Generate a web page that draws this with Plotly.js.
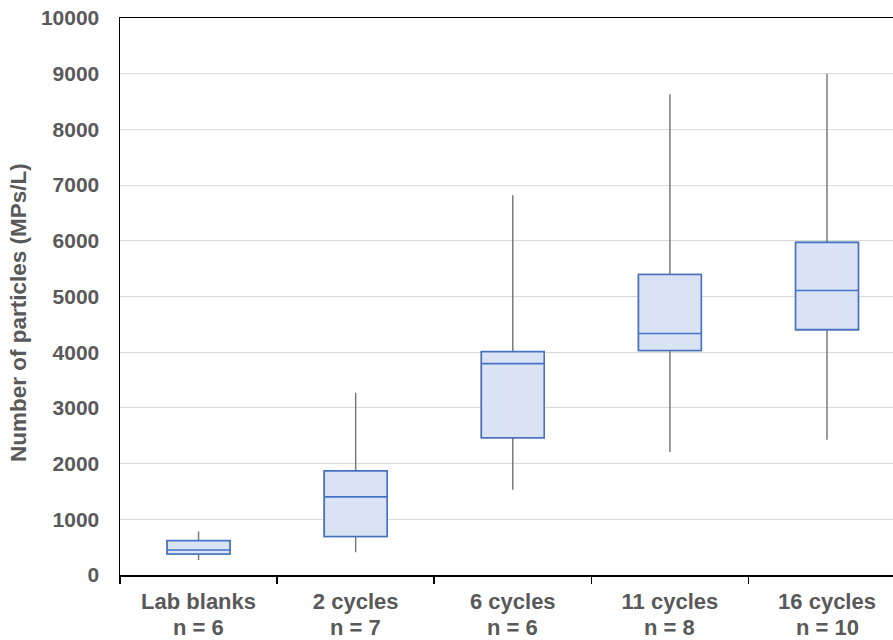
<!DOCTYPE html>
<html>
<head>
<meta charset="utf-8">
<script src="https://cdn.plot.ly/plotly-3.0.1.min.js"></script>
<style>html,body{margin:0;padding:0;background:#fff;}#chart{width:893px;height:640px;}</style>
</head>
<body>
<div id="chart"></div>
<script>
const categories = ["Lab blanks", "2 cycles", "6 cycles", "11 cycles", "16 cycles"];
const sampleCounts = [6, 7, 6, 8, 10];
const minVals = [270, 408, 1530, 2210, 2430];
const q1Vals = [378, 690, 2465, 4030, 4405];
const medianVals = [450, 1403, 3795, 4335, 5108];
const q3Vals = [617, 1870, 4010, 5396, 5971];
const maxVals = [779, 3273, 6817, 8633, 8993];
const yTicks = [0, 1000, 2000, 3000, 4000, 5000, 6000, 7000, 8000, 9000, 10000];
const yTitle = "Number of particles (MPs/L)";

const fontFam = "Arial, 'Liberation Sans', sans-serif";
const textGray = "#595959";

const whiskers = {
  type: "box",
  x: categories,
  q1: q1Vals, median: medianVals, q3: q3Vals,
  lowerfence: minVals, upperfence: maxVals,
  width: 0.4,
  whiskerwidth: 0,
  line: {color: "#7a7a7a", width: 1.5},
  fillcolor: "rgba(0,0,0,0)",
  hoverinfo: "skip",
  showlegend: false
};
const boxes = {
  type: "box",
  x: categories,
  q1: q1Vals, median: medianVals, q3: q3Vals,
  lowerfence: q1Vals, upperfence: q3Vals,
  width: 0.4,
  whiskerwidth: 0,
  line: {color: "#4472c4", width: 1.6},
  fillcolor: "#dae3f3",
  hoverinfo: "skip",
  showlegend: false
};

const annotations = categories.map((c, i) => ({
  x: c, xref: "x",
  y: -0.095, yref: "paper",
  yanchor: "middle", xanchor: "center",
  text: "n = " + sampleCounts[i],
  showarrow: false,
  font: {family: fontFam, size: 22, color: textGray, weight: "bold"}
}));
annotations.push({
  x: -0.132, xref: "paper",
  y: 0.472, yref: "paper",
  xanchor: "center", yanchor: "middle",
  textangle: -90,
  text: yTitle,
  showarrow: false,
  font: {family: fontFam, size: 22.5, color: textGray, weight: "bold"}
});

const layout = {
  width: 893, height: 640,
  margin: {l: 120, r: 0, t: 18, b: 65},
  paper_bgcolor: "#ffffff",
  plot_bgcolor: "#ffffff",
  boxmode: "overlay",
  font: {family: fontFam, color: textGray},
  annotations: annotations,
  xaxis: {
    type: "category",
    range: [-0.5, 4.42],
    tickson: "boundaries",
    ticks: "outside",
    ticklen: 7,
    tickwidth: 1.5,
    tickcolor: "#000000",
    ticklabelstandoff: 6,
    showline: true,
    linecolor: "#000000",
    linewidth: 1.5,
    mirror: true,
    showgrid: false,
    tickfont: {family: fontFam, size: 22, color: textGray, weight: "bold"}
  },
  yaxis: {
    range: [0, 10000],
    tickvals: yTicks,
    ticktext: yTicks.map(String),
    ticks: "",
    ticklabelstandoff: 15,
    showline: true,
    linecolor: "#000000",
    linewidth: 1.5,
    showgrid: true,
    gridcolor: "#d9d9d9",
    gridwidth: 1,
    zeroline: false,
    tickfont: {family: fontFam, size: 21, color: textGray, weight: "bold"}
  }
};

Plotly.newPlot("chart", [whiskers, boxes], layout, {displayModeBar: false, staticPlot: true});
</script>
</body>
</html>
